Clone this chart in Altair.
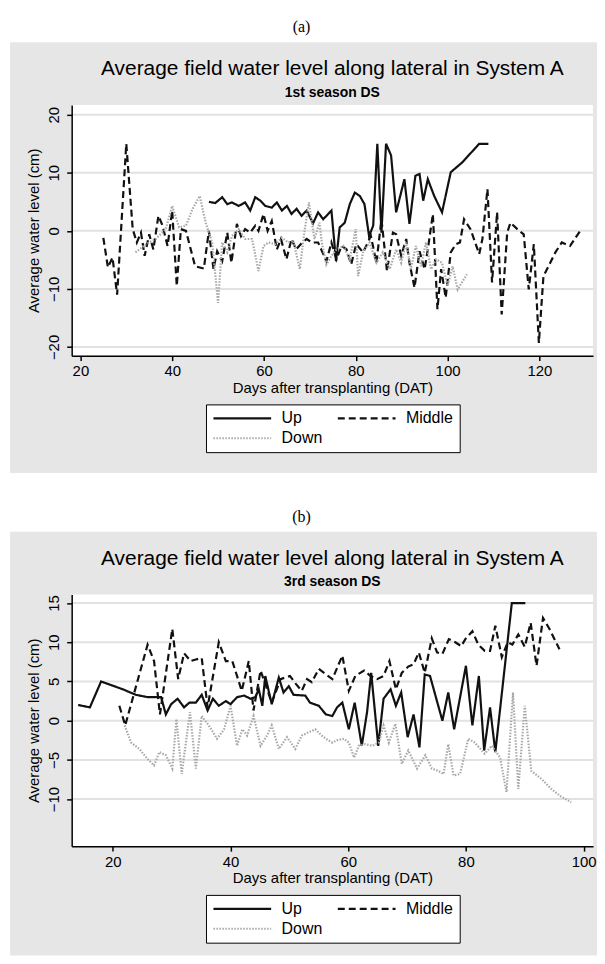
import altair as alt
import pandas as pd

# ---------------- Panel (a): 1st season DS ----------------
a_up_day = [48, 49.4, 50.9, 52, 53, 54.5, 55.9, 57, 58.1, 59.2, 60.3, 61.7, 62.8, 63.9, 65, 66, 67.1, 68.2,
            69.3, 70.7, 71.8, 72.9, 74.7, 75.7, 76.5, 77.6, 78.7, 79.8, 80.9, 81.9, 82.9, 83.8, 84.7, 85.6,
            86.6, 87.7, 88.8, 90.6, 91.7, 93, 93.9, 94.7, 95.7, 97.1, 98.8, 100.7, 103.2, 106.9, 108.9]
a_up_val = [5.0, 4.8, 5.8, 4.6, 4.9, 4.3, 4.9, 3.5, 5.8, 5.2, 4.3, 4.0, 4.9, 3.5, 4.3, 2.9, 3.8, 2.6,
            3.5, 1.3, 3.2, 2.0, 3.5, -5.2, 0.6, 1.4, 4.6, 6.6, 6.0, 4.6, -0.9, 0.9, 15.0, -0.3,
            15.0, 13.0, 3.2, 8.9, 1.2, 9.5, 9.8, 5.2, 8.9, 6.0, 3.2, 10.1, 11.8, 15.0, 15.0]

a_mid_day = [25, 26, 27, 28, 30, 31.4, 32.3, 33.2, 34, 35, 35.9, 37, 37.9, 39, 40, 41, 41.9, 43, 45, 46.9,
             48, 49, 49.8, 50.9, 52, 52.9, 54.1, 55, 55.9, 57, 58.1, 58.8, 59.9, 60.8, 61.7, 62.8, 63.7,
             64.9, 66, 67, 68, 69.3, 70.4, 71.8, 73.6, 74.7, 75.8, 76.9, 78, 79, 80.1, 81.6, 83.3, 84.5,
             85.6, 86.8, 88.1, 88.8, 89.9, 91, 91.7, 92.8, 93.9, 95, 95.7, 96.8, 97.8, 98.6, 99.6, 100.7,
             101.8, 102.7, 103.6, 105, 106.9, 107.6, 108.7, 109.7, 110.8, 111.8, 113, 113.7, 115.2, 116.6,
             117.7, 118.8, 119.9, 120.9, 122, 123.5, 124.9, 126.7, 128.9]
a_mid_val = [-1.2, -6.3, -4.6, -11.0, 15.0, 0.3, -2.0, -0.3, -4.3, -0.6, -3.2, 2.6, 0.9, -2.6, 3.5, -9.5, 0.3,
             0.0, -6.1, -6.5, 0.0, -6.6, -3.5, -5.2, -0.3, -5.5, 1.2, -0.9, 0.3, -0.3, 0.9, 0.0, 2.9, 0.0,
             1.7, -3.2, -1.4, -4.9, -1.4, -3.2, -2.3, -1.4, -2.0, -2.0, -5.2, -2.0, -4.9, -2.6, -3.2, -5.8,
             -2.3, -3.7, -0.9, -5.5, 2.0, -6.9, -0.3, -0.6, -4.3, -1.4, -5.5, -9.8, -3.5, -6.6, -3.2, 2.9,
             -13.5, -6.6, -11.5, -3.7, -2.3, -2.0, 2.0, 0.3, -4.0, -1.4, 7.2, -8.9, 3.2, -14.4, -0.3, 1.4,
             0.3, -0.6, -10.1, -2.3, -19.3, -7.8, -6.1, -3.7, -2.0, -2.6, 0.0]

a_down_day = [32, 34.3, 36.4, 38.6, 40, 41.5, 43, 44.4, 46, 47.3, 48.7, 50, 50.9, 52, 53, 54.5, 55.9, 57.4,
              58.8, 59.9, 61, 62.4, 63.9, 65.3, 66.4, 67.8, 68.9, 69.8, 71, 72.1, 72.6, 73.6, 74.7, 75.8,
              77.3, 78.7, 80, 80.5, 81.6, 83, 84.5, 85.9, 87.4, 88.8, 89.9, 91, 92, 93.1, 94.2, 95.3, 96.4,
              97.5, 98.8, 100, 101.1, 102.2, 104.2]
a_down_val = [-3.7, -2.3, -1.4, 0.3, 4.3, 0.6, 0.9, 3.7, 6.0, 1.4, -2.0, -12.4, -2.0, -3.7, -0.9, 0.3, -1.4,
              -1.4, -6.9, -2.6, -2.0, -2.3, -1.2, -2.0, -1.7, -6.6, 0.3, 4.9, -1.4, 1.4, -2.0, -5.8, -4.3,
              -3.2, -2.6, -4.9, 0.3, -7.8, -3.7, -2.0, -5.5, -3.7, -6.6, -3.2, -5.5, -2.0, -6.6, -2.6, -6.1,
              -2.0, -6.6, -4.9, -5.5, -9.5, -6.1, -10.1, -7.5]

# ---------------- Panel (b): 3rd season DS ----------------
b_up_day = [14.1, 16.1, 18, 21.7, 23.9, 25.9, 28.2, 29, 29.9, 31, 32.1, 33, 34.1, 35.1, 36.1, 37, 38, 39.2,
            40, 41.1, 42.3, 43.4, 44.2, 44.8, 45.4, 45.9, 47, 48.2, 49, 49.9, 50.7, 52.7, 53.5, 55, 56.2,
            57.3, 58.1, 59, 60.1, 61.1, 62.3, 63.2, 63.9, 65.1, 66, 67.2, 68.1, 69, 70.1, 71.1, 72.1, 73,
            73.9, 76, 77, 78, 80, 81.1, 82.2, 83.1, 84.1, 85, 87.8, 90.1]
b_up_val = [2.0, 1.7, 5.0, 4.0, 3.3, 3.0, 3.0, 0.8, 2.1, 2.8, 1.7, 2.3, 2.3, 3.3, 1.3, 2.8, 1.9, 2.5,
            2.1, 3.0, 3.2, 2.8, 3.0, 4.0, 1.9, 5.7, 2.1, 5.5, 3.6, 4.4, 3.3, 3.2, 2.3, 1.9, 0.8,
            0.6, 1.7, 2.3, -1.1, 2.3, -3.2, 1.1, 6.1, -3.2, 2.8, 4.0, 1.9, 3.6, -2.1, 0.8, -3.4, 5.9,
            5.7, 0.0, 3.6, -1.1, 7.0, -0.6, 5.7, -3.8, 1.7, -4.0, 15.0, 15.0]

b_mid_day = [21.1, 22.1, 25.9, 27, 28, 30.1, 31.1, 32.1, 33.2, 34.1, 35.1, 36.1, 38, 39.2, 40.3, 41.9, 43.1,
             43.9, 45.1, 45.9, 47, 48.5, 50.1, 51.1, 52.1, 53, 53.8, 55, 57.3, 59, 60.1, 61.2, 62.7, 63.8,
             64.9, 66, 67, 68.1, 69.1, 70.2, 71.1, 72, 73, 74.2, 75.1, 76, 77.1, 78.2, 79.2, 79.9, 81.1,
             82.1, 83.2, 84.1, 85, 86.1, 87.1, 87.9, 88.9, 90, 91, 92, 93.1, 94.2, 95.9]
b_mid_val = [1.9, -0.6, 9.7, 7.6, 0.8, 11.7, 5.3, 8.6, 7.6, 7.8, 8.0, 1.7, 10.0, 7.6, 7.6, 3.8, 7.6,
             1.3, 6.4, 4.7, 2.3, 5.3, 5.7, 4.7, 3.8, 5.3, 4.9, 6.6, 5.3, 8.3, 3.8, 5.7, 6.4, 5.7,
             5.3, 5.7, 7.6, 4.0, 6.1, 6.9, 7.2, 8.7, 6.1, 10.5, 8.7, 8.5, 10.4, 10.0, 9.5, 10.4, 11.4,
             9.7, 8.9, 8.9, 12.1, 8.1, 10.0, 9.7, 11.0, 9.4, 12.5, 7.0, 13.1, 11.7, 9.1]

b_down_day = [22, 23.1, 24.5, 25.9, 27, 27.9, 29, 30.1, 30.8, 31.7, 33.1, 34.1, 35.1, 36.3, 37.7, 38.9, 40,
              41.1, 42, 42.8, 43.9, 45.1, 46.2, 47, 48.2, 49.6, 51, 52.1, 53.2, 54.4, 55.5, 56.2, 57.3, 58.1,
              59.3, 60.1, 61, 61.8, 62.9, 64.1, 65.2, 66, 66.9, 68, 69.1, 70.2, 71.7, 73.1, 74.2, 75.3, 76.2,
              77, 77.9, 79, 79.6, 80.4, 81.5, 83.2, 84.4, 85.8, 86.9, 88, 88.9, 90, 91.1, 92.8, 94.5, 96.2,
              97.9]
b_down_val = [-0.6, -2.8, -3.6, -4.9, -5.7, -4.0, -4.4, -6.1, 0.2, -6.8, 1.1, -6.1, 0.6, -0.6, -2.3, -1.1, 1.9,
              -3.2, -1.1, -1.9, 0.6, -3.2, -1.9, -0.6, -3.6, -2.1, -3.6, -1.9, -1.5, -1.1, -1.9, -2.3, -2.8,
              -2.5, -2.3, -2.8, -4.7, -3.2, -3.0, -3.2, -2.8, -0.6, -2.8, -0.4, -5.5, -3.8, -6.1, -4.4, -6.1,
              -6.4, -6.8, -3.0, -7.0, -6.8, -4.9, -2.3, -2.8, -4.2, -3.2, -4.7, -9.1, 3.6, -8.7, 1.9, -6.4,
              -7.4, -8.7, -9.7, -10.4]

series_names = ["Up", "Middle", "Down"]
a_xticks = [20, 40, 60, 80, 100, 120]
a_yticks = [20, 10, 0, -10, -20]
b_xticks = [20, 40, 60, 80, 100]
b_yticks = [15, 10, 5, 0, -5, -10]

MAIN_TITLE = "Average field water level along lateral in System A"
X_TITLE = "Days after transplanting (DAT)"
Y_TITLE = "Average water level (cm)"

W = 524
FONT = "Liberation Sans"
GRAY_BG = "#e6e6e6"


def build_df(up_d, up_v, mid_d, mid_v, dn_d, dn_v):
    parts = []
    for name, d, v in (("Up", up_d, up_v), ("Middle", mid_d, mid_v), ("Down", dn_d, dn_v)):
        parts.append(pd.DataFrame({"day": d, "val": v, "series": name}))
    return pd.concat(parts, ignore_index=True)


def panel(tag, sub, df, xdom, ydom, xticks, yticks, h, bottom_ext):
    one = pd.DataFrame({"k": [0]})
    bg = alt.Chart(one).mark_rect(color=GRAY_BG).encode(
        x=alt.value(-62), x2=alt.value(W + 4), y=alt.value(-63), y2=alt.value(h + bottom_ext))
    plotbg = alt.Chart(one).mark_rect(color="white").encode(
        x=alt.value(0), x2=alt.value(W), y=alt.value(0), y2=alt.value(h))
    xs = alt.Scale(domain=xdom, nice=False, zero=False)
    ys = alt.Scale(domain=ydom, nice=False, zero=False)
    grid = alt.Chart(pd.DataFrame({"g": yticks})).mark_rule(color="#e2e2e2", strokeWidth=2).encode(
        y=alt.Y("g:Q", scale=ys), x=alt.value(0), x2=alt.value(W))
    lines = alt.Chart(df).mark_line(interpolate="linear").encode(
        x=alt.X("day:Q", scale=xs, title=X_TITLE,
                axis=alt.Axis(values=xticks, format="d", grid=False, zindex=1,
                              labelPadding=3, titlePadding=2)),
        y=alt.Y("val:Q", scale=ys, title=Y_TITLE,
                axis=alt.Axis(values=yticks, format="d", grid=False, zindex=1,
                              labelAngle=270, labelAlign="center", labelBaseline="bottom",
                              labelPadding=5, titlePadding=5)),
        color=alt.Color("series:N", sort=series_names,
                        scale=alt.Scale(domain=series_names, range=["#111111", "#111111", "#a8a8a8"]),
                        legend=alt.Legend(title=None, orient="none", legendX=135, legendY=h + 49,
                                          direction="horizontal", columns=2,
                                          symbolType="stroke", symbolSize=3364, clipHeight=16,
                                          symbolStrokeWidth=2, labelFontSize=16, labelFont=FONT,
                                          labelColor="black", labelOffset=9, columnPadding=14,
                                          rowPadding=4, padding=6, strokeColor="black",
                                          fillColor="white", labelLimit=200)),
        strokeDash=alt.StrokeDash("series:N", sort=series_names,
                                  scale=alt.Scale(domain=series_names, range=[[1, 0], [7, 4], [1.5, 1.5]]),
                                  legend=alt.Legend(title=None)),
        strokeWidth=alt.StrokeWidth("series:N", scale=alt.Scale(domain=series_names, range=[2.2, 2.2, 1.6]),
                                    legend=None),
        detail="series:N",
        order=alt.Order("day:Q"),
    )
    tag_t = alt.Chart(pd.DataFrame({"t": [tag]})).mark_text(
        font="Liberation Serif", fontSize=16, color="black", align="center", baseline="middle").encode(
        x=alt.value(231), y=alt.value(-78), text="t:N")
    title_t = alt.Chart(pd.DataFrame({"t": [MAIN_TITLE]})).mark_text(
        font=FONT, fontSize=21, color="black", align="center", baseline="middle").encode(
        x=alt.value(W / 2), y=alt.value(-36), text="t:N")
    sub_t = alt.Chart(pd.DataFrame({"t": [sub]})).mark_text(
        font=FONT, fontSize=14, fontWeight="bold", color="black", align="center", baseline="middle").encode(
        x=alt.value(W / 2), y=alt.value(-12), text="t:N")
    return alt.layer(bg, plotbg, grid, lines, tag_t, title_t, sub_t).properties(width=W, height=h)


df_a = build_df(a_up_day, a_up_val, a_mid_day, a_mid_val, a_down_day, a_down_val)
df_b = build_df(b_up_day, b_up_val, b_mid_day, b_mid_val, b_down_day, b_down_val)

pa = panel("(a)", "1st season DS", df_a, [18.1, 131.7], [-21.5, 21.7], a_xticks, a_yticks, 252, 118)
pb = panel("(b)", "3rd season DS", df_b, [13.0, 101.6], [-16.0, 16.1], b_xticks, b_yticks, 253, 110)

chart = alt.vconcat(pa, pb, spacing=36).resolve_scale(
    x="independent", y="independent", color="independent", strokeDash="independent",
    strokeWidth="independent"
).properties(
    padding={"left": 2, "top": 9, "right": 0, "bottom": 0}
).configure_view(stroke=None).configure_axis(
    domainColor="black", domainWidth=1.5, tickColor="black", tickWidth=1.5, tickSize=5,
    labelFont=FONT, labelFontSize=15, labelColor="black",
    titleFont=FONT, titleFontSize=15, titleFontWeight="normal", titleColor="black"
)

chart.save("out.html", embed_options={"renderer": "svg", "actions": False})
